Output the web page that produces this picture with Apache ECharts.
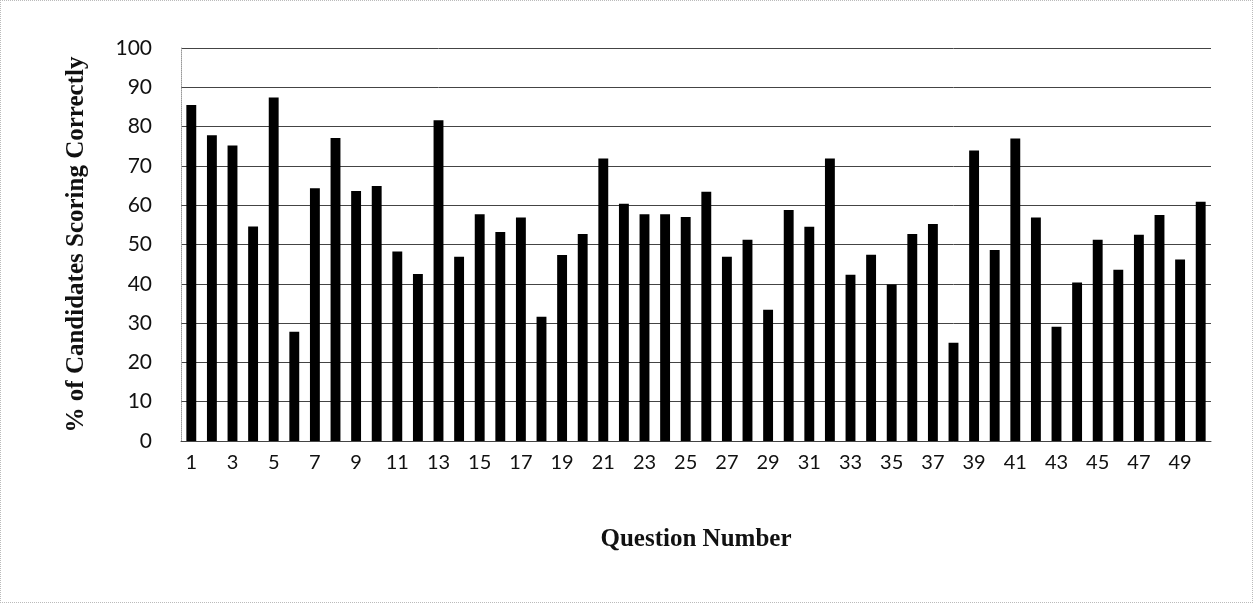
<!DOCTYPE html>
<html><head><meta charset="utf-8">
<script src="https://cdn.jsdelivr.net/npm/echarts@6/dist/echarts.min.js"></script>
<style>html,body{margin:0;padding:0;background:#fff}#c{width:1253px;height:603px;box-sizing:border-box;border:1px dotted #bbb}</style>
</head><body><div id="c"></div>
<script>
const questions = Array.from({length:50},(_, i)=>String(i+1));
const percentCorrect = [85.5,77.8,75.2,54.6,87.4,27.8,64.3,77.1,63.6,64.9,
  48.2,42.5,81.6,46.9,57.7,53.2,56.9,31.6,47.3,52.7,
  71.9,60.4,57.7,57.7,57.0,63.4,46.9,51.2,33.4,58.8,
  54.5,71.9,42.3,47.4,39.8,52.7,55.2,25.0,73.9,48.6,
  77.0,56.9,29.1,40.3,51.2,43.6,52.5,57.5,46.2,60.9];
const yTitle = '% of Candidates Scoring Correctly';
const xTitle = 'Question Number';
const chart = echarts.init(document.getElementById('c'));
chart.setOption({
  animation:false,
  grid:{left:180,right:41,top:47,bottom:161},
  xAxis:{type:'category',data:questions,
    axisLine:{show:true,lineStyle:{color:'#444',width:1}},
    axisTick:{show:false},
    axisLabel:{interval:1,margin:12,fontFamily:'Lato',fontSize:20,color:'#111'},
    name:xTitle,nameLocation:'middle',nameGap:86,
    nameTextStyle:{fontFamily:'Liberation Serif',fontWeight:'bold',fontSize:25,color:'#111'}},
  yAxis:{type:'value',min:0,max:100,interval:10,
    axisLine:{show:true,lineStyle:{color:'#999',type:'dotted'}},
    axisTick:{show:false},
    splitLine:{lineStyle:{color:'#444',width:1}},
    axisLabel:{margin:29,fontFamily:'Lato',fontSize:21,color:'#111'},
    name:yTitle,nameLocation:'middle',nameGap:92,
    nameTextStyle:{fontFamily:'Liberation Serif',fontWeight:'bold',fontSize:25,color:'#111'}},
  series:[{type:'bar',data:percentCorrect,barWidth:'48%',itemStyle:{color:'#000'}}]
});
</script></body></html>
